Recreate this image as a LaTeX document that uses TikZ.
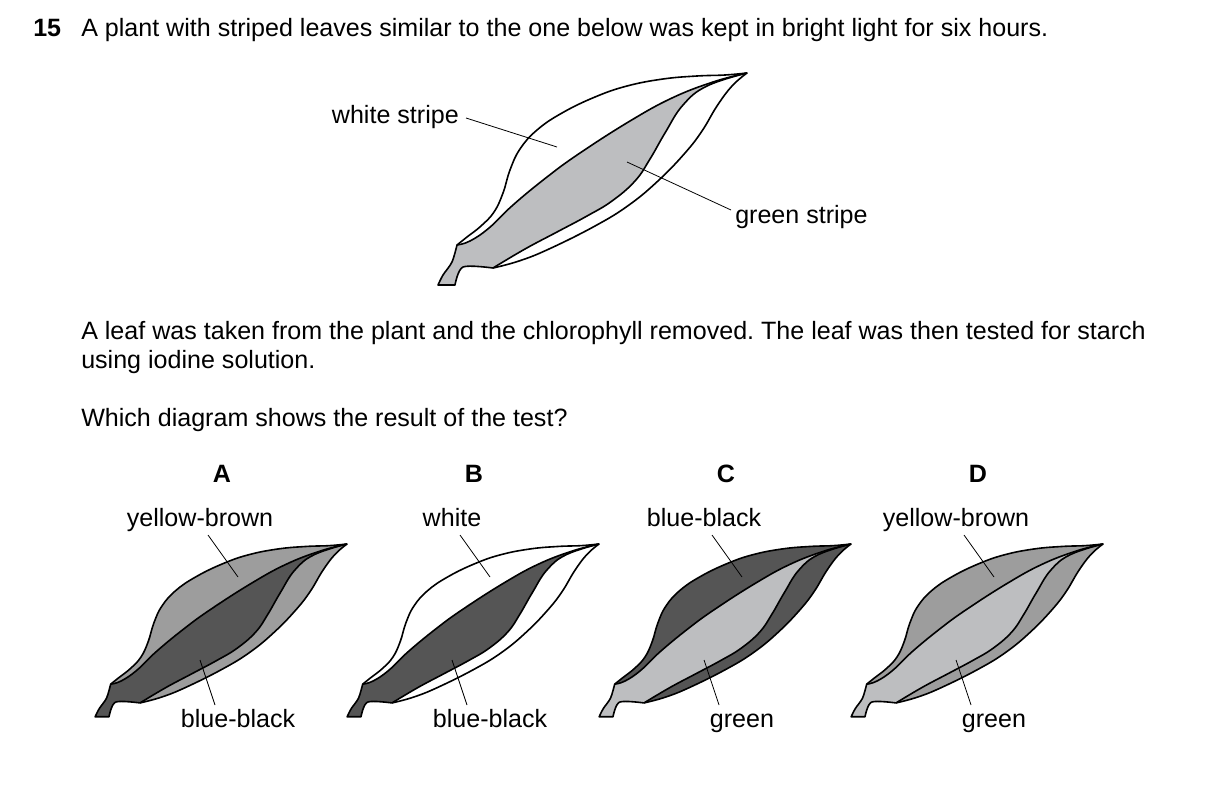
\documentclass[tikz,border=0pt]{standalone}
\usepackage{fontspec}
\setmainfont{Liberation Sans}
\frenchspacing
\begin{document}
\begin{tikzpicture}[x=0.75pt,y=-0.75pt,
  txt/.style={font=\fontsize{18.8}{22}\selectfont,inner sep=0pt},
  lbl/.style={line width=0.6pt},
  edge/.style={line width=1.2pt,line join=round}]
\useasboundingbox (0,0) rectangle (1209,786);
\def\upperC{plot[smooth,tension=0.7] coordinates{(-290,172) (-277,168) (-258,155) (-234,132) (-200,104) (-167,80) (-117,48) (-75,25) (-34,9) (0,0)}}
\def\lowerC{plot[smooth,tension=0.7] coordinates{(0,0) (-40,13) (-64,32) (-82,60) (-97,86) (-112,108) (-135,128) (-160,143) (-190,159) (-222,176) (-254,195)}}
\def\outerpath{plot[smooth,tension=0.7] coordinates{(0,0) (-22,2) (-50,3) (-84,6) (-120,13) (-152,24) (-185,40) (-210,57) (-227,76) (-237,97) (-244,120) (-253,139) (-266,153) (-280,164) (-290,172)}
  -- plot[smooth] coordinates{(-290,172) (-295,189) (-304,202) (-309,212)} -- (-292,212)
  -- plot[smooth] coordinates{(-292,212) (-284,194) (-254,195)}
  -- plot[smooth,tension=0.7] coordinates{(-254,195) (-228,188) (-198,176) (-152,153) (-118,132) (-88,107) (-62,80) (-45,58) (-30,33) (-15,13) (0,0)} -- cycle}
\def\centerpath{plot[smooth] coordinates{(-309,212) (-304,202) (-295,189) (-290,172)}
  -- plot[smooth,tension=0.7] coordinates{(-290,172) (-277,168) (-258,155) (-234,132) (-200,104) (-167,80) (-117,48) (-75,25) (-34,9) (0,0)}
  -- plot[smooth,tension=0.7] coordinates{(0,0) (-40,13) (-64,32) (-82,60) (-97,86) (-112,108) (-135,128) (-160,143) (-190,159) (-222,176) (-254,195)}
  -- plot[smooth] coordinates{(-254,195) (-284,194) (-292,212)} -- cycle}
\newcommand{\leaf}[4]{%
  \begin{scope}[shift={#1},scale=#2]
    \fill[#3] \outerpath;
    \fill[#4] \centerpath;
    \draw[edge] \outerpath;
    \draw[edge] \upperC;
    \draw[edge] \lowerC;
  \end{scope}}
\definecolor{lg}{HTML}{BDBEC0}
\definecolor{mg}{HTML}{9D9D9D}
\definecolor{dg}{HTML}{555555}
% text
\node[txt,anchor=base west,font=\fontsize{18.8}{22}\selectfont\bfseries] (n15) at (33,36) {15};
\node[txt,anchor=base west] (q1) at (81,36) {A plant with striped leaves similar to the one below was kept in bright light for six hours.};
\node[txt,anchor=base west] (q2) at (81,339) {A leaf was taken from the plant and the chlorophyll removed. The leaf was then tested for starch};
\node[txt,anchor=base west] (q3) at (81,368) {using iodine solution.};
\node[txt,anchor=base west] (q4) at (81,426) {Which diagram shows the result of the test?};
% top leaf
\leaf{(747,73)}{1}{white}{lg}
\node[txt,anchor=base east] (ws) at (459,123) {white stripe};
\coordinate (wsp) at (557,147);
\draw[lbl] (466,118) -- (wsp);
\node[txt,anchor=base west] (gs) at (735,223) {green stripe};
\coordinate (gsp) at (627,162);
\draw[lbl] (gsp) -- (731,210);
% bottom leaves
\foreach \i/\L/\oc/\cc/\tl/\bl in {0/A/mg/dg/yellow-brown/blue-black,1/B/white/dg/white/blue-black,2/C/dg/lg/blue-black/green,3/D/mg/lg/yellow-brown/green}{
  \leaf{(347+252*\i,544)}{0.815}{\oc}{\cc}
  \node[txt,anchor=base,font=\fontsize{18.8}{22}\selectfont\bfseries] (L\L) at (222+252*\i,482) {\L};
  \node[txt,anchor=base] (t\L) at (200+252*\i,526) {\tl};
  \node[txt,anchor=base] (b\L) at (238+252*\i,727) {\bl};
  \draw[lbl] (208+252*\i,535) -- (238+252*\i,577);
  \draw[lbl] (200+252*\i,660) -- (215+252*\i,705);
}
\end{tikzpicture}
\end{document}
